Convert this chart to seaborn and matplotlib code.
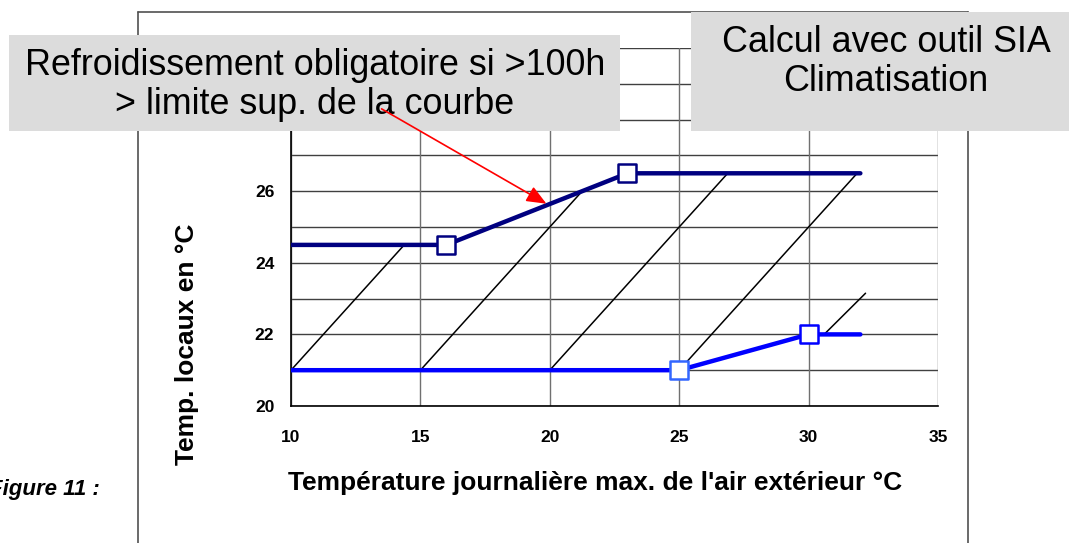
import numpy as np
import pandas as pd
import matplotlib
matplotlib.use("Agg")
import matplotlib.pyplot as plt
import seaborn as sns
from matplotlib.patches import Rectangle, FancyArrowPatch
from matplotlib.lines import Line2D

# data
upper_x = [10, 16, 23, 32]
upper_y = [24.5, 24.5, 26.5, 26.5]
lower_x = [10, 25, 30, 32]
lower_y = [21, 21, 22, 22]

# thin diagonal lines (start x, start y, end x, end y)
diag_x0 = [10, 15, 20, 25, 30.6]
diag_y0 = [21, 21, 21, 21, 22.0]
diag_x1 = [14.375, 21.25, 26.875, 31.875, 32.2]
diag_y1 = [24.5, 26.0, 26.5, 26.5, 23.15]

x_ticks = [10, 15, 20, 25, 30, 35]
y_ticks = [20, 22, 24, 26]  # 28 and 30 sit under the grey box

sns.set_style("white")
plt.rcParams['font.family'] = ['Liberation Sans', 'DejaVu Sans']
plt.rcParams['text.color'] = 'black'
plt.rcParams['xtick.color'] = 'black'
plt.rcParams['ytick.color'] = 'black'

W, H = 1069, 543
fig = plt.figure(figsize=(W / 100, H / 100), dpi=100)

def px(x, y):
    # pixel (from top-left) -> figure fraction
    return x / W, 1 - y / H

ax = fig.add_axes([291 / W, 1 - 406 / H, (938 - 291) / W, (406 - 48) / H])

# grid
for yv in range(20, 31):
    ax.axhline(yv, color='#404040', lw=1, zorder=1)
for xv in x_ticks:
    ax.axvline(xv, color='#707070', lw=1, zorder=1)

for x0, y0, x1, y1 in zip(diag_x0, diag_y0, diag_x1, diag_y1):
    sns.lineplot(x=[x0, x1], y=[y0, y1], color='black', lw=1.1, ax=ax, zorder=2)

sns.lineplot(x=upper_x, y=upper_y, sort=False, estimator=None, color='#000080', lw=3.2, ax=ax, zorder=3)
sns.lineplot(x=lower_x, y=lower_y, sort=False, estimator=None, color='#0000FF', lw=3.2, ax=ax, zorder=3)

sns.scatterplot(x=upper_x[1:3], y=upper_y[1:3], marker='s', s=180, color='white',
                edgecolor='#000080', linewidth=1.8, ax=ax, zorder=4)
sns.scatterplot(x=lower_x[1:2], y=lower_y[1:2], marker='s', s=180, color='white',
                edgecolor='#3366FF', linewidth=1.8, ax=ax, zorder=4)
sns.scatterplot(x=lower_x[2:3], y=lower_y[2:3], marker='s', s=180, color='white',
                edgecolor='#0000FF', linewidth=1.8, ax=ax, zorder=4)

ax.set_xlim(10, 35)
ax.set_ylim(20, 30)
ax.set_xticks(x_ticks)
ax.set_yticks(range(20, 31))
ax.set_yticklabels([str(v) if v in y_ticks else '' for v in range(20, 31)])
ax.tick_params(axis='x', direction='out', length=7, width=1, pad=10, labelsize=12.5)
ax.tick_params(axis='y', direction='out', length=5, width=1, pad=7, labelsize=12.5)
for lab in ax.get_xticklabels() + ax.get_yticklabels():
    lab.set_fontweight('bold')
ax.set_xlabel('')
ax.set_ylabel('')
for side in ['top', 'right']:
    ax.spines[side].set_visible(False)
for side in ['left', 'bottom']:
    ax.spines[side].set_color('black')
    ax.spines[side].set_linewidth(1.2)

# outer frame
frame_col = '#505050'
fig.add_artist(Line2D([138 / W, 138 / W], [0, 1 - 12 / H], color=frame_col, lw=1.2))
fig.add_artist(Line2D([968 / W, 968 / W], [0, 1 - 12 / H], color=frame_col, lw=1.2))
fig.add_artist(Line2D([138 / W, 968 / W], [1 - 12 / H, 1 - 12 / H], color=frame_col, lw=1.2))

# axis labels
fig.text(*px(187, 344), 'Temp. locaux en °C', rotation=90, ha='center', va='center',
         fontsize=19, fontweight='bold')
fig.text(*px(595, 483), "Température journalière max. de l'air extérieur °C", ha='center',
         va='center', fontsize=19, fontweight='bold')
fig.text(*px(100, 489), 'Figure 11 :', ha='right', va='center', fontsize=16,
         fontweight='bold', fontstyle='italic')

# grey boxes
box_col = '#DCDCDC'
fig.add_artist(Rectangle(px(9, 131), 611 / W, 96 / H, facecolor=box_col, edgecolor='none', zorder=5))
fig.add_artist(Rectangle(px(691, 131), 378 / W, 119 / H, facecolor=box_col, edgecolor='none', zorder=5))
fig.text(*px(315, 85), 'Refroidissement obligatoire si >100h\n> limite sup. de la courbe',
         ha='center', va='center', fontsize=25.8, linespacing=1.13, zorder=6)
fig.text(*px(886, 62), 'Calcul avec outil SIA\nClimatisation', ha='center', va='center',
         fontsize=25.8, linespacing=1.13, zorder=6)

# red arrow
arrow = FancyArrowPatch((13.5, 28.3), (19.87, 25.65), transform=ax.transData,
                        arrowstyle='-|>,head_length=12,head_width=5', color='red', lw=1.2,
                        shrinkA=0, shrinkB=0, zorder=7)
fig.add_artist(arrow)

fig.savefig('out.png', dpi=100)
